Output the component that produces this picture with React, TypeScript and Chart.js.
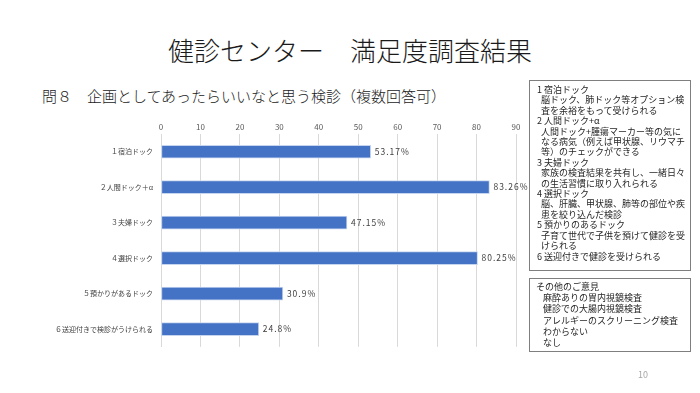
import React, { useEffect, useRef } from "react";
import { Chart, registerables } from "chart.js";

Chart.register(...registerables);

const categories = [
  "１宿泊ドック",
  "２人間ドック＋α",
  "３夫婦ドック",
  "４選択ドック",
  "５預かりがあるドック",
  "６送迎付きで検診がうけられる",
];
const values = [53.17, 83.26, 47.15, 80.25, 30.9, 24.8];
const valueLabels = ["53.17%", "83.26%", "47.15%", "80.25%", "30.9%", "24.8%"];
const xTicks = [0, 10, 20, 30, 40, 50, 60, 70, 80, 90];

const title = "健診センター　満足度調査結果";
const subtitle = "問８　企画としてあったらいいなと思う検診（複数回答可）";
const legendLines: [string, boolean][] = [
  ["1 宿泊ドック", false],
  ["脳ドック、肺ドック等オプション検", true],
  ["査を余裕をもって受けられる", true],
  ["2 人間ドック+α", false],
  ["人間ドック+腫瘍マーカー等の気に", true],
  ["なる病気（例えば甲状腺、リウマチ", true],
  ["等）のチェックができる", true],
  ["3 夫婦ドック", false],
  ["家族の検査結果を共有し、一緒日々", true],
  ["の生活習慣に取り入れられる", true],
  ["4 選択ドック", false],
  ["脳、肝臓、甲状腺、肺等の部位や疾", true],
  ["患を絞り込んだ検診", true],
  ["5 預かりのあるドック", false],
  ["子育て世代で子供を預けて健診を受", true],
  ["けられる", true],
  ["6 送迎付きで健診を受けられる", false],
];
const otherLines: [string, boolean][] = [
  ["その他のご意見", false],
  ["麻酔ありの胃内視鏡検査", true],
  ["健診での大腸内視鏡検査", true],
  ["アレルギーのスクリーニング検査", true],
  ["わからない", true],
  ["なし", true],
];

const FONT = '"Noto Sans CJK JP", "Noto Sans", sans-serif';

export default function App() {
  const ref = useRef<HTMLCanvasElement>(null);

  useEffect(() => {
    if (!ref.current) return;
    const labelPlugin = {
      id: "valueLabels",
      afterDatasetsDraw(chart: any) {
        const ctx = chart.ctx;
        const meta = chart.getDatasetMeta(0);
        ctx.save();
        ctx.font = `8.5px ${FONT}`;
        (ctx as any).letterSpacing = "1px";
        ctx.fillStyle = "#404040";
        ctx.textAlign = "left";
        ctx.textBaseline = "middle";
        meta.data.forEach((bar: any, i: number) => {
          ctx.fillText(valueLabels[i], bar.x + 4, bar.y);
        });
        ctx.restore();
      },
    };
    const chart = new Chart(ref.current, {
      type: "bar",
      data: {
        labels: categories,
        datasets: [
          {
            data: values,
            backgroundColor: "#4472C4",
            borderColor: "#c5d5f0",
            borderWidth: 1,
            borderSkipped: false,
            barThickness: 13,
          },
        ],
      },
      options: {
        indexAxis: "y",
        responsive: false,
        animation: false,
        layout: { padding: { left: 0, right: 14, top: 0, bottom: 3 } },
        plugins: { legend: { display: false }, tooltip: { enabled: false } },
        scales: {
          x: {
            position: "top",
            min: 0,
            max: 90,
            afterBuildTicks(axis: any) {
              axis.ticks = xTicks.map((v) => ({ value: v }));
            },
            afterFit(axis: any) {
              axis.height = 24;
            },
            ticks: {
              font: { size: 8, family: FONT },
              color: "#595959",
              padding: 2,
            },
            grid: { color: "#d9d9d9", drawTicks: false },
            border: { display: false },
          },
          y: {
            afterFit(axis: any) {
              axis.width = 161;
            },
            ticks: {
              font: { size: 7, family: FONT },
              color: "#404040",
              padding: 8,
              autoSkip: false,
            },
            grid: { display: false, drawTicks: false },
            border: { color: "#d9d9d9" },
          },
        },
      },
      plugins: [labelPlugin],
    });
    return () => chart.destroy();
  }, []);

  const boxText: React.CSSProperties = {
    fontSize: 9,
    color: "#262626",
    position: "absolute",
    left: 521,
    width: 162,
    border: "1px solid #7f7f7f",
    boxSizing: "border-box",
  };

  return (
    <div style={{ position: "relative", width: 700, height: 393, fontFamily: FONT, color: "#262626" }}>
      <div
        style={{
          position: "absolute",
          left: -8,
          top: 27,
          width: 700,
          textAlign: "center",
          fontSize: 26,
          fontWeight: 300,
          lineHeight: "30px",
          color: "#1a1a1a",
        }}
      >
        {title}
      </div>
      <div
        style={{
          position: "absolute",
          left: 34,
          top: 79,
          fontSize: 15,
          fontWeight: 300,
          lineHeight: "18px",
          whiteSpace: "nowrap",
          color: "#1a1a1a",
        }}
      >
        {subtitle}
      </div>
      <canvas
        ref={ref}
        width={530}
        height={249}
        style={{ position: "absolute", left: -8, top: 102, width: 530, height: 249 }}
      />
      <div
        style={{
          ...boxText,
          top: 72,
          height: 191,
          padding: "4px 0 0 7px",
          lineHeight: "10.4px",
        }}
      >
        {legendLines.map(([t, ind], i) => (
          <div key={i} style={{ paddingLeft: ind ? 4 : 0, whiteSpace: "nowrap" }}>
            {t}
          </div>
        ))}
      </div>
      <div
        style={{
          ...boxText,
          top: 270,
          height: 74,
          padding: "2px 0 0 6px",
          lineHeight: "11.2px",
        }}
      >
        {otherLines.map(([t, ind], i) => (
          <div key={i} style={{ paddingLeft: ind ? 7 : 0, whiteSpace: "nowrap" }}>
            {t}
          </div>
        ))}
      </div>
      <div
        style={{
          position: "absolute",
          left: 630,
          top: 360,
          fontSize: 9,
          color: "#a6a6a6",
        }}
      >
        10
      </div>
    </div>
  );
}
